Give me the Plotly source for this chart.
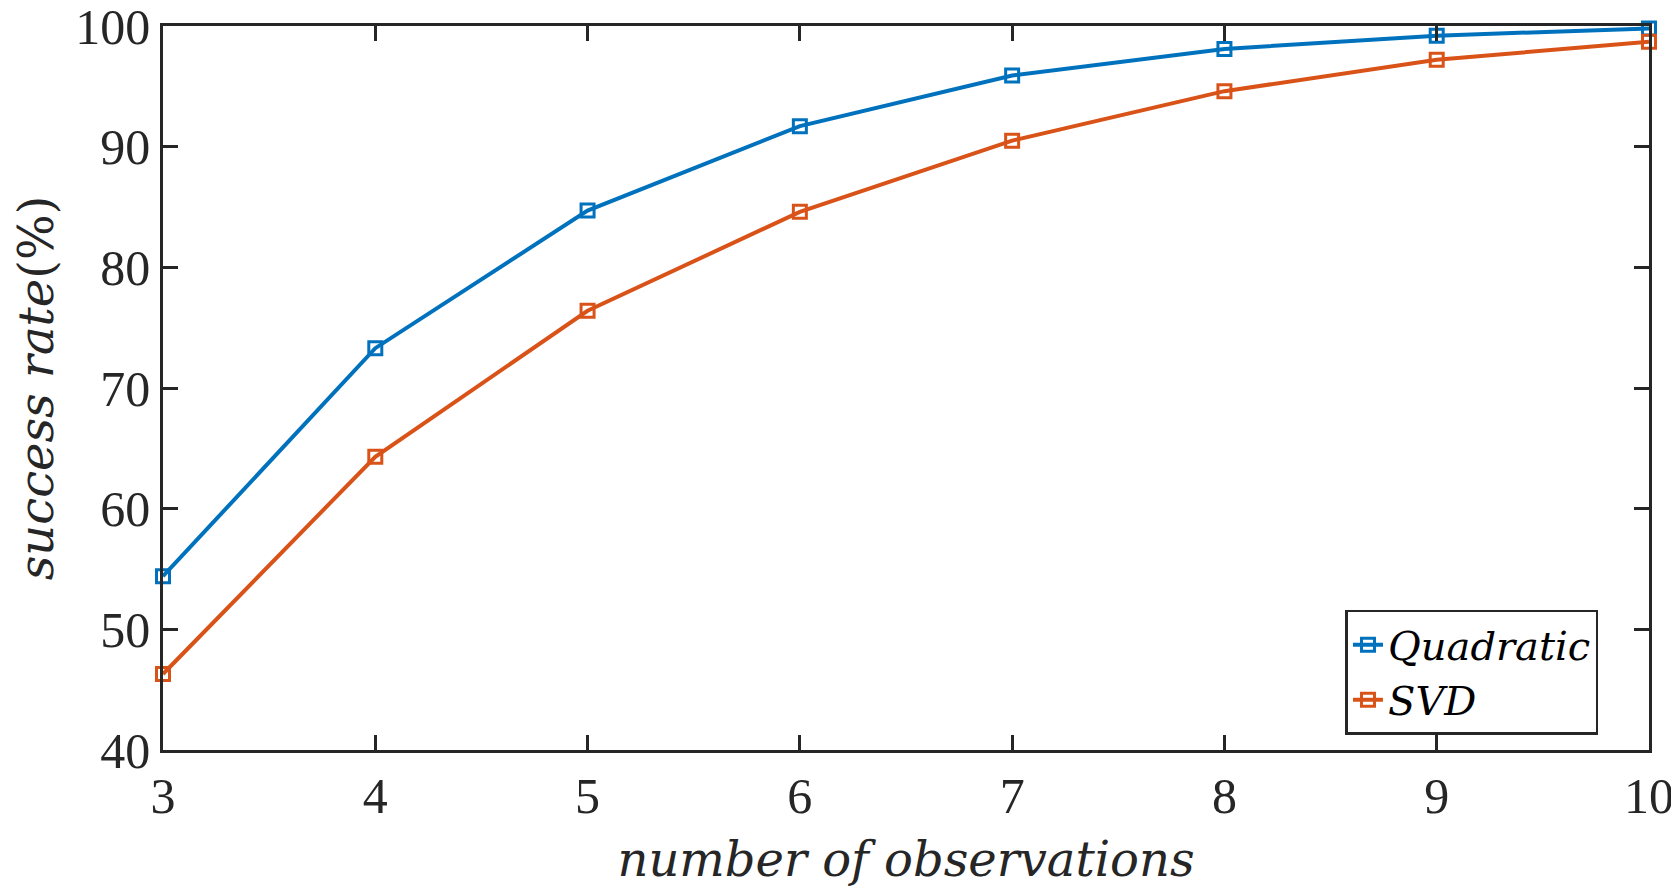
import plotly.graph_objects as go

# data
observations = [3, 4, 5, 6, 7, 8, 9, 10]
quadratic = [54.4, 73.3, 84.7, 91.7, 95.9, 98.1, 99.2, 99.8]
svd = [46.3, 64.3, 76.4, 84.6, 90.5, 94.6, 97.2, 98.7]

x_ticks = [3, 4, 5, 6, 7, 8, 9, 10]
y_ticks = [40, 50, 60, 70, 80, 90, 100]

blue = "#0072BD"
orange = "#D95319"
axis_col = "#262626"
serif = "Liberation Serif, DejaVu Serif, serif"
wide_serif = "DejaVu Serif, Liberation Serif, serif"

fig = go.Figure()
for name, vals, col in [("Quadratic", quadratic, blue), ("SVD", svd, orange)]:
    fig.add_trace(go.Scatter(
        x=observations, y=vals, name="<i>" + name + "</i>",
        mode="lines+markers", cliponaxis=False,
        line=dict(color=col, width=4),
        marker=dict(symbol="square-open", size=13, color=col, line=dict(width=3)),
    ))

axis_style = dict(
    showline=True, linecolor=axis_col, linewidth=2.5, mirror="ticks",
    ticks="inside", ticklen=15, tickwidth=2.5, tickcolor=axis_col,
    showgrid=False, zeroline=False, automargin=False,
    ticklabeloverflow="allow",
    tickfont=dict(family=serif, size=50, color=axis_col),
)

fig.update_xaxes(range=[3, 10], tickvals=x_ticks,
                 title=dict(text="<i>number of observations</i>", standoff=20,
                            font=dict(family=wide_serif, size=48, color=axis_col)),
                 **axis_style)
fig.update_yaxes(range=[40, 100], tickvals=y_ticks,
                 title=dict(text="<i>success rate</i>(%)", standoff=8,
                            font=dict(family=wide_serif, size=48, color=axis_col)),
                 **axis_style)

fig.update_layout(
    width=1679, height=892,
    margin=dict(l=155, r=38, t=18, b=150),
    plot_bgcolor="white", paper_bgcolor="white",
    legend=dict(x=0.966, y=0.021, xanchor="right", yanchor="bottom",
                bgcolor="white", bordercolor=axis_col, borderwidth=2.5,
                font=dict(family=wide_serif, size=40, color="black"),
                tracegroupgap=0, itemwidth=30),
)

fig.write_html("out.html")
